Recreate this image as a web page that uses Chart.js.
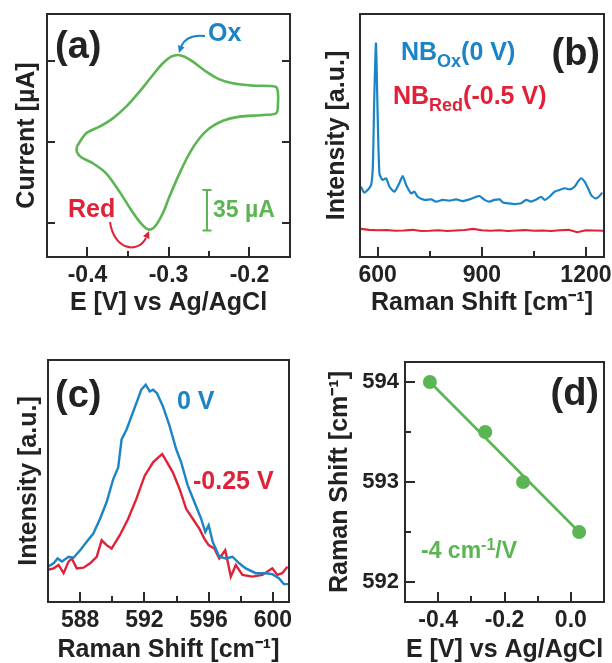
<!DOCTYPE html>
<html>
<head>
<meta charset="utf-8">
<script src="https://cdn.jsdelivr.net/npm/chart.js@4.4.1/dist/chart.umd.min.js"></script>
<style>
  html, body { margin: 0; padding: 0; background: #fff; overflow: hidden; }
  #wrap { position: relative; width: 612px; height: 663px; }
  canvas { position: absolute; display: block; }
</style>
</head>
<body>
<div id="wrap">
  <canvas id="chartA" width="306" height="320" style="left:0;top:0"></canvas>
  <canvas id="chartB" width="306" height="320" style="left:306px;top:0"></canvas>
  <canvas id="chartC" width="306" height="333" style="left:0;top:330px"></canvas>
  <canvas id="chartD" width="306" height="333" style="left:306px;top:330px"></canvas>
</div>
<script>
// ---- (a) cyclic voltammogram ----
const cvE = [-0.4132, -0.4016, -0.3852, -0.3687, -0.3523, -0.3358, -0.3193, -0.3070, -0.2967, -0.2885,
  -0.2802, -0.2700, -0.2535, -0.2370, -0.2206, -0.1959, -0.1679, -0.1650, -0.1650, -0.1671,
  -0.1835, -0.2123, -0.2329, -0.2494, -0.2617, -0.2741, -0.2864, -0.2988, -0.3070, -0.3152,
  -0.3214, -0.3276, -0.3358, -0.3461, -0.3605, -0.3770, -0.3934, -0.4078, -0.4132, -0.4132];
const cvI = [-4.0, 7.5, 13.2, 20.4, 30.5, 43.5, 57.9, 68.0, 73.7, 75.2,
  73.7, 69.4, 60.8, 54.1, 50.7, 48.7, 47.8, 43.5, 30.5, 24.8,
  23.3, 21.9, 18.4, 11.8, 3.2, -9.8, -27.1, -47.2, -61.6, -71.7,
  -75.5, -74.6, -68.8, -58.8, -42.9, -27.1, -18.4, -13.2, -8.4, -4.0];
const cvTicksMajor = [-0.4, -0.3, -0.2];
const cvTicksMinor = [-0.35, -0.25];
const cvCurrentTicks = [-70, 0, 70];

// ---- (b) Raman spectra ----
const ramanOx = [552, 561, 571, 581, 586, 590, 595, 600, 605, 614, 624, 634, 648, 662, 672, 682, 696, 706, 715, 735,
  754, 768, 787, 807, 826, 845, 864, 884, 893, 908, 922, 936, 951, 961, 975, 994, 1013, 1028, 1042, 1057,
  1071, 1081, 1095, 1110, 1124, 1139, 1153, 1167, 1177, 1186, 1196, 1206, 1215, 1228, 1237, 1247];
const intensityOx = [28.9, 26.5, 27.6, 29.6, 37.2, 64.6, 87.9, 57.8, 34.4, 31.7, 32.4, 28.9, 26.9, 30.3, 33.3, 29.6, 26.2, 26.9, 24.8, 23.5,
  23.7, 22.8, 23.5, 23.2, 23.7, 23.0, 23.7, 24.8, 25.1, 23.5, 22.8, 23.5, 23.7, 22.4, 22.1, 21.8, 22.1, 23.5, 22.8, 23.7,
  24.8, 23.5, 24.8, 26.9, 27.6, 28.3, 27.8, 28.9, 31.0, 32.4, 31.0, 28.3, 25.5, 24.1, 24.8, 26.5];
const ramanRed = [552, 575, 600, 625, 650, 675, 700, 725, 750, 775, 800, 825, 850, 875, 900,
  925, 950, 975, 1000, 1025, 1050, 1075, 1100, 1125, 1150, 1175, 1200, 1225, 1250];
const intensityRed = [11.6, 11.2, 11.0, 11.1, 10.8, 10.9, 11.2, 10.7, 10.8, 11.0, 10.7, 10.9, 11.1, 11.6, 11.0,
  10.8, 11.0, 10.7, 10.9, 11.1, 10.8, 10.9, 10.7, 11.0, 11.2, 10.2, 11.0, 10.9, 10.8];
const ramanTicksMajor = [600, 900, 1200];
const ramanTicksMinor = [750, 1050];

// ---- (c) zoom on the 592 band ----
const shift0V = [586.0, 586.35, 586.6, 586.87, 587.28, 587.59, 588.0, 588.41, 588.82, 589.24, 589.65, 590.06, 590.37, 590.58, 590.89,
  591.2, 591.5, 591.8, 592.08, 592.33, 592.54, 592.78, 593.15, 593.57, 593.98, 594.29, 594.7, 595.11, 595.53, 595.79,
  596.0, 596.25, 596.66, 597.07, 597.48, 597.9, 598.31, 598.93, 599.55, 599.96, 600.37, 600.68, 600.95];
const int0V = [14.6, 16.0, 18.0, 16.7, 18.7, 18.3, 21.4, 24.9, 28.3, 34.4, 41.3, 50.8, 55.6, 67.2, 71.3,
  76.8, 82.2, 87.7, 89.8, 87.0, 87.7, 86.3, 80.9, 72.7, 63.1, 57.7, 48.1, 41.3, 34.4, 28.9,
  31.7, 24.9, 18.7, 18.0, 18.7, 16.0, 13.9, 11.9, 11.9, 11.5, 9.8, 7.4, 7.4];
const shiftM025 = [586.0, 586.35, 586.66, 586.97, 587.28, 587.48, 587.79, 588.21, 588.62, 589.03, 589.34, 589.65, 589.96, 590.47, 590.99,
  591.5, 592.02, 592.54, 592.85, 593.11, 593.36, 593.77, 594.19, 594.6, 595.01, 595.42, 595.73, 596.0, 596.35, 596.66,
  597.03, 597.38, 597.69, 598.1, 598.72, 599.34, 599.96, 600.27, 600.58, 600.9];
const intM025 = [13.3, 13.9, 15.3, 11.9, 16.7, 18.0, 13.9, 14.2, 16.0, 18.7, 25.5, 23.5, 22.1, 27.6, 34.4,
  42.6, 52.2, 57.7, 59.7, 61.1, 58.3, 53.6, 46.7, 38.5, 34.4, 30.3, 26.2, 23.5, 22.1, 18.0,
  21.4, 10.5, 15.3, 11.2, 10.5, 11.2, 13.9, 11.2, 11.9, 14.6];
const bandTicksMajor = [588, 592, 596, 600];
const bandTicksMinor = [590, 594, 598];

// ---- (d) peak position vs potential ----
const potential = [-0.425, -0.258, -0.144, 0.025];
const peakShift = [594.0, 593.5, 593.0, 592.5];
const fitPotential = [-0.425, 0.025];
const fitShift = [594.0, 592.5];
const potTicksMajor = [-0.4, -0.2, 0.0];
const potTicksMinor = [-0.3, -0.1];
const shiftTicksMajor = [592, 593, 594];
const shiftTicksMinor = [592.5, 593.5];

const BLUE = '#1b84c6';
const RED = '#e02238';
const GREEN = '#5cb553';
const INK = '#222';
const FAMILY = "'Liberation Sans', Arial, Helvetica, sans-serif";

Chart.defaults.font.family = FAMILY;
Chart.defaults.font.weight = 'bold';
Chart.defaults.color = INK;

function pairs(xs, ys) {
  return xs.map((x, i) => ({ x: x, y: ys[i] }));
}

// ticks set by hand: edge values get an empty label so they never pad the layout
function tickSetter(min, max, major, minor) {
  return function (scale) {
    const vals = [min].concat(major, minor, [max]).sort((a, b) => a - b);
    scale.ticks = vals.map(v => ({ value: v }));
  };
}

function labelFor(major, digits) {
  return function (value) {
    return major.indexOf(value) >= 0 ? value.toFixed(digits) : '';
  };
}

function xAxis(min, max, major, minor, digits, title, height, titlePad) {
  return {
    type: 'linear', min: min, max: max,
    grid: { display: false, drawTicks: false },
    border: { display: false },
    afterBuildTicks: tickSetter(min, max, major, minor),
    ticks: { autoSkip: false, maxRotation: 0, padding: 5, font: { size: 23 }, callback: labelFor(major, digits) },
    title: { display: true, text: title, color: INK, font: { size: 25, lineHeight: 1 }, padding: { top: 0, bottom: titlePad } },
    afterFit: s => { s.height = height; }
  };
}

function yAxis(min, max, major, minor, showLabels, title, width, titlePad) {
  return {
    type: 'linear', min: min, max: max,
    grid: { display: false, drawTicks: false },
    border: { display: false },
    afterBuildTicks: tickSetter(min, max, major, minor),
    ticks: { display: showLabels, autoSkip: false, padding: 6, font: { size: 22 }, callback: labelFor(major, 0) },
    title: { display: true, text: title, color: INK, font: { size: 25, lineHeight: 1 }, padding: { top: titlePad, bottom: 0 } },
    afterFit: s => { s.width = width; }
  };
}

// frame around the plot area plus inward tick marks
function framePlugin(cfg) {
  return {
    id: 'frame',
    afterDatasetsDraw(chart) {
      const ctx = chart.ctx;
      const a = chart.chartArea;
      ctx.save();
      ctx.strokeStyle = '#2a2a2a';
      ctx.lineWidth = 2;
      ['x', 'y'].forEach(id => {
        const c = cfg[id];
        if (!c) return;
        const scale = chart.scales[id];
        scale.ticks.forEach(t => {
          if (t.value === scale.min || t.value === scale.max) return;
          const len = t.label !== '' ? c.major : c.minor;
          if (!len) return;
          const p = Math.round(scale.getPixelForValue(t.value));
          ctx.beginPath();
          if (id === 'x') {
            ctx.moveTo(p, a.bottom); ctx.lineTo(p, a.bottom - len);
          } else {
            ctx.moveTo(a.left, p); ctx.lineTo(a.left + len, p);
            if (c.mirror) { ctx.moveTo(a.right, p); ctx.lineTo(a.right - len, p); }
          }
          ctx.stroke();
        });
      });
      ctx.strokeRect(a.left, a.top, a.right - a.left, a.bottom - a.top);
      ctx.restore();
    }
  };
}

function drawRich(ctx, item) {
  const small = Math.round(item.size * 0.7);
  const widths = item.parts.map(p => {
    ctx.font = 'bold ' + (p.sub || p.sup ? small : item.size) + 'px ' + FAMILY;
    return ctx.measureText(p.t).width;
  });
  const total = widths.reduce((s, w) => s + w, 0);
  let x = item.align === 'right' ? item.x - total : (item.align === 'center' ? item.x - total / 2 : item.x);
  ctx.fillStyle = item.color;
  ctx.textBaseline = 'middle';
  ctx.textAlign = 'left';
  item.parts.forEach((p, i) => {
    ctx.font = 'bold ' + (p.sub || p.sup ? small : item.size) + 'px ' + FAMILY;
    const dy = p.sub ? item.size * 0.38 : (p.sup ? -item.size * 0.3 : 0);
    ctx.fillText(p.t, x, item.y + dy);
    x += widths[i];
  });
}

function textPlugin(items) {
  return {
    id: 'texts',
    afterDraw(chart) {
      const ctx = chart.ctx;
      ctx.save();
      items.forEach(it => drawRich(ctx, it));
      ctx.restore();
    }
  };
}

function arrowHead(ctx, x, y, dx, dy, size) {
  const ang = Math.atan2(dy, dx);
  ctx.beginPath();
  ctx.moveTo(x, y);
  ctx.lineTo(x - size * Math.cos(ang - 0.45), y - size * Math.sin(ang - 0.45));
  ctx.lineTo(x - size * Math.cos(ang + 0.45), y - size * Math.sin(ang + 0.45));
  ctx.closePath();
  ctx.fill();
}

const baseOptions = {
  responsive: false,
  animation: false,
  events: [],
  plugins: { legend: { display: false }, tooltip: { enabled: false } }
};

// ---------- (a) ----------
new Chart(document.getElementById('chartA'), {
  type: 'scatter',
  data: {
    datasets: [{
      data: pairs(cvE, cvI),
      showLine: true,
      borderColor: GREEN,
      borderWidth: 2.6,
      pointRadius: 0,
      tension: 0.3
    }]
  },
  options: Object.assign({}, baseOptions, {
    layout: { padding: { top: 14, right: 16, left: 0, bottom: 0 } },
    scales: {
      x: xAxis(-0.45, -0.15, cvTicksMajor, cvTicksMinor, 1, 'E [V] vs Ag/AgCl', 63, 4),
      y: yAxis(-99.4, 110.6, cvCurrentTicks, [], false, 'Current [\u00B5A]', 47, 15)
    }
  }),
  plugins: [
    framePlugin({ x: { major: 10, minor: 6 }, y: { major: 8, minor: 0, mirror: true } }),
    {
      id: 'cvNotes',
      afterDraw(chart) {
        const ctx = chart.ctx;
        const xs = chart.scales.x, ys = chart.scales.y;
        ctx.save();
        // 35 uA scale bar
        const bx = xs.getPixelForValue(-0.2525);
        const b0 = ys.getPixelForValue(-41.5), b1 = ys.getPixelForValue(-76.5);
        ctx.strokeStyle = GREEN;
        ctx.lineWidth = 2;
        ctx.beginPath();
        ctx.moveTo(bx, b0); ctx.lineTo(bx, b1);
        ctx.moveTo(bx - 4.5, b0); ctx.lineTo(bx + 4.5, b0);
        ctx.moveTo(bx - 4.5, b1); ctx.lineTo(bx + 4.5, b1);
        ctx.stroke();
        // Ox arrow
        ctx.strokeStyle = BLUE; ctx.fillStyle = BLUE; ctx.lineWidth = 2;
        ctx.beginPath();
        ctx.moveTo(205, 36);
        ctx.quadraticCurveTo(186, 34, 181, 47);
        ctx.stroke();
        arrowHead(ctx, 179, 53, -1, 3, 8);
        // Red arrow
        ctx.strokeStyle = RED; ctx.fillStyle = RED;
        ctx.beginPath();
        ctx.moveTo(110, 222);
        ctx.bezierCurveTo(114, 250, 138, 254, 146, 238);
        ctx.stroke();
        arrowHead(ctx, 149, 231, 1, -2.4, 8);
        ctx.restore();
      }
    },
    textPlugin([
      { x: 55, y: 48, size: 38, color: INK, parts: [{ t: '(a)' }] },
      { x: 208, y: 34, size: 25, color: BLUE, parts: [{ t: 'Ox' }] },
      { x: 68, y: 210, size: 25, color: RED, parts: [{ t: 'Red' }] },
      { x: 213, y: 211, size: 23, color: GREEN, parts: [{ t: '35 \u00B5A' }] }
    ])
  ]
});

// ---------- (b) ----------
new Chart(document.getElementById('chartB'), {
  type: 'scatter',
  data: {
    datasets: [{
      data: pairs(ramanOx, intensityOx),
      showLine: true, borderColor: BLUE, borderWidth: 2.2, pointRadius: 0, tension: 0.2
    }, {
      data: pairs(ramanRed, intensityRed),
      showLine: true, borderColor: RED, borderWidth: 2.2, pointRadius: 0, tension: 0
    }]
  },
  options: Object.assign({}, baseOptions, {
    layout: { padding: { top: 14, right: 8, left: 0, bottom: 0 } },
    scales: {
      x: xAxis(549, 1252, ramanTicksMajor, ramanTicksMinor, 0, 'Raman Shift [cm\u207B\u00B9]', 63, 4),
      y: yAxis(0, 100, [], [], false, 'Intensity [a.u.]', 54, 19)
    }
  }),
  plugins: [
    framePlugin({ x: { major: 10, minor: 6 } }),
    textPlugin([
      { x: 294, y: 55, size: 38, color: INK, align: 'right', parts: [{ t: '(b)' }] },
      { x: 95, y: 53, size: 25, color: BLUE, parts: [{ t: 'NB' }, { t: 'Ox', sub: true }, { t: '(0 V)' }] },
      { x: 87, y: 97, size: 25, color: RED, parts: [{ t: 'NB' }, { t: 'Red', sub: true }, { t: '(-0.5 V)' }] }
    ])
  ]
});

// ---------- (c) ----------
new Chart(document.getElementById('chartC'), {
  type: 'scatter',
  data: {
    datasets: [{
      data: pairs(shift0V, int0V),
      showLine: true, borderColor: BLUE, borderWidth: 2.4, pointRadius: 0, tension: 0
    }, {
      data: pairs(shiftM025, intM025),
      showLine: true, borderColor: RED, borderWidth: 2.4, pointRadius: 0, tension: 0
    }]
  },
  options: Object.assign({}, baseOptions, {
    layout: { padding: { top: 30, right: 17, left: 0, bottom: 0 } },
    scales: {
      x: xAxis(586, 601, bandTicksMajor, bandTicksMinor, 0, 'Raman Shift [cm\u207B\u00B9]', 61, 0),
      y: yAxis(0, 100, [], [], false, 'Intensity [a.u.]', 48, 17)
    }
  }),
  plugins: [
    framePlugin({ x: { major: 10, minor: 6 } }),
    textPlugin([
      { x: 55, y: 67, size: 38, color: INK, parts: [{ t: '(c)' }] },
      { x: 177, y: 72, size: 25, color: BLUE, parts: [{ t: '0 V' }] },
      { x: 193, y: 152, size: 25, color: RED, parts: [{ t: '-0.25 V' }] }
    ])
  ]
});

// ---------- (d) ----------
new Chart(document.getElementById('chartD'), {
  type: 'scatter',
  data: {
    datasets: [{
      data: pairs(potential, peakShift),
      backgroundColor: GREEN, borderWidth: 0, pointRadius: 7
    }, {
      data: pairs(fitPotential, fitShift),
      showLine: true, borderColor: GREEN, borderWidth: 2.6, pointRadius: 0
    }]
  },
  options: Object.assign({}, baseOptions, {
    layout: { padding: { top: 32, right: 8, left: 0, bottom: 0 } },
    scales: {
      x: xAxis(-0.5, 0.1, potTicksMajor, potTicksMinor, 1, 'E [V] vs Ag/AgCl', 61, 0),
      y: yAxis(591.8, 594.2, shiftTicksMajor, shiftTicksMinor, true, 'Raman Shift [cm\u207B\u00B9]', 99, 22)
    }
  }),
  plugins: [
    framePlugin({ x: { major: 10, minor: 6 }, y: { major: 10, minor: 6 } }),
    textPlugin([
      { x: 293, y: 65, size: 38, color: INK, align: 'right', parts: [{ t: '(d)' }] },
      { x: 115, y: 222, size: 23, color: GREEN, parts: [{ t: '-4 cm' }, { t: '-1', sup: true }, { t: '/V' }] }
    ])
  ]
});
</script>
</body>
</html>
